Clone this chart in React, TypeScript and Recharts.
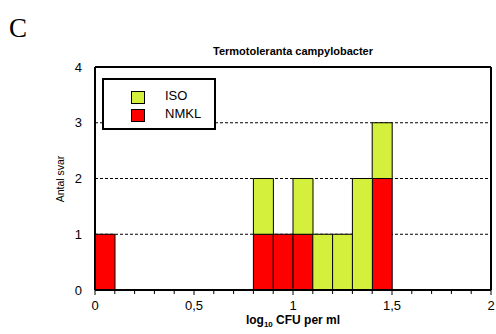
import React from 'react';
import { ComposedChart, Bar, XAxis, YAxis, CartesianGrid, ReferenceLine } from 'recharts';

const binStarts = [0, 0.1, 0.2, 0.3, 0.4, 0.5, 0.6, 0.7, 0.8, 0.9, 1.0, 1.1, 1.2, 1.3, 1.4, 1.5, 1.6, 1.7, 1.8, 1.9];
const nmklCounts = [1, 0, 0, 0, 0, 0, 0, 0, 1, 1, 1, 0, 0, 0, 2, 0, 0, 0, 0, 0];
const isoCounts = [0, 0, 0, 0, 0, 0, 0, 0, 1, 0, 1, 1, 1, 2, 1, 0, 0, 0, 0, 0];
const xTicks = [0, 0.1, 0.2, 0.3, 0.4, 0.5, 0.6, 0.7, 0.8, 0.9, 1, 1.1, 1.2, 1.3, 1.4, 1.5, 1.6, 1.7, 1.8, 1.9, 2];
const majorTicks = [0, 0.5, 1, 1.5, 2];
const yTicks = [0, 1, 2, 3, 4];
const binWidth = 0.1;

const data = binStarts.map((b, i) => ({ x: b + binWidth / 2, nmkl: nmklCounts[i], iso: isoCounts[i] }));

const ISO_COLOR = '#d4f03c';
const NMKL_COLOR = '#ff0000';
const FONT = 'Liberation Sans, Arial, sans-serif';

const XTick = (props: any) => {
  const { x, y, payload } = props;
  const v = Math.round(payload.value * 10) / 10;
  const isMajor = majorTicks.some((m) => Math.abs(m - v) < 1e-6);
  return (
    <g>
      <line x1={x} x2={x} y1={y} y2={y + (isMajor ? 5 : 4)} stroke="#000" strokeWidth={1} />
      {isMajor && (
        <text x={x} y={y + 20} textAnchor="middle" fontSize={13} fontFamily={FONT} fill="#000">
          {String(v).replace('.', ',')}
        </text>
      )}
    </g>
  );
};

const LegendBox = () => (
  <div
    style={{
      position: 'absolute',
      left: 102,
      top: 78,
      width: 110,
      height: 48,
      border: '2px solid #000',
      background: '#fff',
      fontFamily: FONT,
      fontSize: 13,
      boxSizing: 'content-box',
    }}
  >
    {[
      { name: 'ISO', color: ISO_COLOR, top: 11 },
      { name: 'NMKL', color: NMKL_COLOR, top: 29 },
    ].map((it) => (
      <div key={it.name} style={{ position: 'absolute', left: 27, top: it.top }}>
        <div
          style={{
            position: 'absolute',
            left: 0,
            top: 0,
            width: 12,
            height: 11,
            background: it.color,
            border: '1.5px solid #000',
          }}
        />
        <div style={{ position: 'absolute', left: 34, top: -3, lineHeight: '16px', whiteSpace: 'nowrap' }}>{it.name}</div>
      </div>
    ))}
  </div>
);

export default function App() {
  return (
    <div style={{ position: 'absolute', left: 0, top: 0, width: 496, height: 334, background: '#fff' }}>
      <div style={{ position: 'absolute', left: 9, top: 13, fontFamily: 'Liberation Serif, Times New Roman, serif', fontSize: 27, lineHeight: '30px' }}>
        C
      </div>
      <div
        style={{
          position: 'absolute',
          left: 95,
          width: 396,
          top: 44,
          textAlign: 'center',
          fontFamily: FONT,
          fontWeight: 'bold',
          fontSize: 11,
          lineHeight: '14px',
        }}
      >
        Termotoleranta campylobacter
      </div>
      <div
        style={{
          position: 'absolute',
          left: 60,
          top: 179,
          transform: 'translate(-50%, -50%) rotate(-90deg)',
          fontFamily: FONT,
          fontSize: 10.5,
          whiteSpace: 'nowrap',
          lineHeight: '12px',
        }}
      >
        Antal svar
      </div>
      <div
        style={{
          position: 'absolute',
          left: 95,
          width: 396,
          top: 314,
          textAlign: 'center',
          fontFamily: FONT,
          fontWeight: 'bold',
          fontSize: 12,
          lineHeight: '13px',
        }}
      >
        log<sub style={{ fontSize: 8, lineHeight: 0 }}>10</sub> CFU per ml
      </div>
      <ComposedChart
        width={496}
        height={334}
        data={data}
        margin={{ top: 67, right: 5, bottom: 14, left: 65 }}
        barCategoryGap={0}
        barGap={0}
      >
        <CartesianGrid vertical={false} stroke="#000" strokeDasharray="3 2" strokeWidth={1} />
        <XAxis
          dataKey="x"
          type="number"
          domain={[0, 2]}
          ticks={xTicks}
          interval={0}
          height={30}
          tickSize={0}
          tickMargin={0}
          tickLine={false}
          tick={<XTick />}
          axisLine={{ stroke: '#000', strokeWidth: 2 }}
          allowDataOverflow
        />
        <YAxis
          domain={[0, 4]}
          ticks={yTicks}
          width={30}
          tickLine={false}
          tickMargin={7}
          axisLine={{ stroke: '#000', strokeWidth: 2 }}
          tick={{ fontSize: 13, fontFamily: FONT, fill: '#000' }}
        />
        <Bar dataKey="nmkl" stackId="a" fill={NMKL_COLOR} stroke="#000" strokeWidth={1} isAnimationActive={false} />
        <Bar dataKey="iso" stackId="a" fill={ISO_COLOR} stroke="#000" strokeWidth={1} isAnimationActive={false} />
        <ReferenceLine y={4} stroke="#000" strokeWidth={2} />
        <ReferenceLine x={2} stroke="#000" strokeWidth={2} />
      </ComposedChart>
      <LegendBox />
    </div>
  );
}
